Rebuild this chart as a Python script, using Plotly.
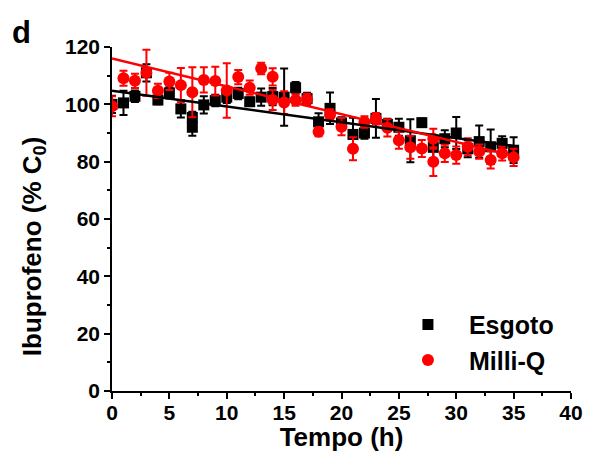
import plotly.graph_objects as go

# Esgoto (black squares)
t_esg = [0, 1, 2, 3, 4, 5, 6, 7, 7, 8, 9, 10, 11, 12, 13, 14, 15, 16, 17, 18,
         19, 20, 21, 22, 23, 24, 25, 26, 27, 28, 29, 30, 31, 32, 33, 34, 35]
y_esg = [100.0, 100.5, 102.8, 111.0, 101.5, 104.0, 98.4, 95.4, 92.0, 99.8, 101.3,
         102.5, 103.8, 100.9, 102.5, 102.7, 102.5, 105.8, 102.0, 93.9, 98.6, 93.5,
         89.5, 90.0, 95.1, 93.0, 92.0, 87.3, 93.6, 85.0, 88.0, 90.0, 84.5, 87.0,
         85.2, 86.4, 84.0]
e_esg = [3.0, 4.2, 2.0, 3.0, 1.5, 2.0, 3.0, 2.0, 3.0, 3.0, 2.0, 2.0, 2.0, 1.5,
         3.0, 3.0, 10.0, 2.0, 2.0, 3.0, 5.5, 2.0, 5.8, 2.0, 6.8, 2.0, 3.0, 7.5,
         1.5, 4.0, 3.0, 5.6, 3.0, 5.6, 6.0, 2.5, 4.5]

# Milli-Q (red circles)
t_mq = [0, 1, 2, 3, 4, 5, 6, 7, 8, 9, 10, 11, 12, 13, 14, 14, 15, 16, 17, 18,
        19, 20, 21, 22, 23, 24, 25, 26, 27, 28, 28, 29, 30, 31, 32, 33, 34, 35]
y_mq = [99.3, 109.1, 108.2, 111.0, 104.7, 108.0, 106.7, 104.2, 108.5, 108.1,
        104.8, 109.5, 105.8, 112.5, 109.6, 101.5, 100.6, 101.5, 101.7, 90.4,
        96.3, 92.2, 84.5, 93.8, 95.0, 91.8, 87.5, 85.0, 84.6, 88.0, 80.0, 82.9,
        82.3, 85.2, 83.5, 80.6, 82.9, 81.5]
e_mq = [3.5, 2.6, 2.5, 8.0, 2.5, 3.0, 6.0, 8.7, 4.4, 5.0, 9.5, 2.5, 2.5, 2.0,
        3.0, 3.5, 4.0, 2.0, 2.0, 1.5, 2.0, 3.0, 4.0, 2.0, 2.0, 3.0, 3.0, 4.0,
        3.0, 3.5, 5.0, 3.0, 3.0, 3.0, 2.5, 3.0, 2.5, 3.0]

# Fitted lines (endpoints)
fit_t = [0, 35]
fit_esg = [104.7, 85.5]
fit_mq = [116.0, 82.0]

x_ticks = [0, 5, 10, 15, 20, 25, 30, 35, 40]
y_ticks = [0, 20, 40, 60, 80, 100, 120]

FONT = "Liberation Sans"

fig = go.Figure()

fig.add_trace(go.Scatter(
    x=t_esg, y=y_esg, mode="markers", name="<b>Esgoto</b>",
    marker=dict(symbol="square", size=11, color="black"),
    error_y=dict(type="data", array=e_esg, color="black", thickness=2, width=4),
))
fig.add_trace(go.Scatter(
    x=t_mq, y=y_mq, mode="markers", name="<b>Milli-Q</b>",
    marker=dict(symbol="circle", size=12, color="#ff0000"),
    error_y=dict(type="data", array=e_mq, color="#ff0000", thickness=2, width=4),
))
fig.add_trace(go.Scatter(
    x=fit_t, y=fit_esg, mode="lines", showlegend=False,
    line=dict(color="black", width=2.5),
))
fig.add_trace(go.Scatter(
    x=fit_t, y=fit_mq, mode="lines", showlegend=False,
    line=dict(color="#ff0000", width=2.5),
))

axis_common = dict(
    showline=True, linecolor="black", linewidth=1.5, mirror=False,
    showgrid=False, zeroline=False, automargin=False,
    ticks="outside", ticklen=6, tickwidth=1.5, tickcolor="black",
    tickfont=dict(family=FONT, size=21, color="black", weight="bold"),
)

fig.update_xaxes(
    range=[0, 40], tickvals=x_ticks, ticktext=[f"<b>{v}</b>" for v in x_ticks],
    minor=dict(dtick=2.5, ticks="outside", ticklen=3, tickwidth=1.5, tickcolor="black"),
    ticklabelstandoff=-4,
    title=dict(text="<b>Tempo (h)</b>", font=dict(family=FONT, size=26, color="black"), standoff=0),
    **axis_common,
)
fig.update_yaxes(
    range=[0, 120], tickvals=y_ticks, ticktext=[f"<b>{v}</b>" for v in y_ticks],
    minor=dict(dtick=10, ticks="outside", ticklen=3, tickwidth=1.5, tickcolor="black"),
    **axis_common,
)

fig.update_layout(
    width=589, height=452,
    margin=dict(l=112, r=18, t=47, b=61),
    paper_bgcolor="white", plot_bgcolor="white",
    font=dict(family=FONT, color="black"),
    legend=dict(
        x=0.599, y=0.142, xanchor="left", yanchor="middle",
        font=dict(family=FONT, size=25, color="black"),
        bgcolor="rgba(0,0,0,0)", itemwidth=72,
    ),
    annotations=[
        dict(
            text="<b>d</b>", xref="paper", yref="paper", x=-0.222, y=1.1,
            xanchor="left", yanchor="top", showarrow=False,
            font=dict(family=FONT, size=31, color="black"),
        ),
        dict(
            text="<b>Ibuprofeno (% C<sub>0</sub>)</b>", xref="paper", yref="paper",
            x=-0.172, y=0.421, xanchor="center", yanchor="middle", textangle=-90,
            showarrow=False, font=dict(family=FONT, size=26, color="black"),
        ),
    ],
)

fig.write_html(
    "out.html",
    config={"displayModeBar": False},
    post_script="document.body.style.margin='0';document.body.style.overflow='hidden';",
)
